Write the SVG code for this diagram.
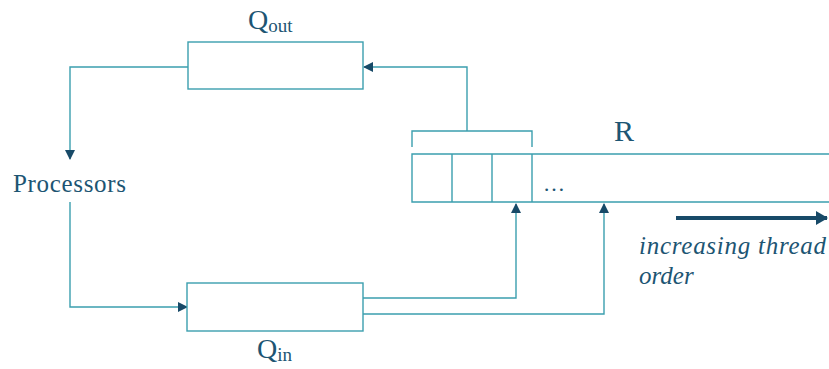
<svg xmlns="http://www.w3.org/2000/svg" width="829" height="369" viewBox="0 0 829 369">
<style>
.ln{fill:none;stroke:#3b9fae;stroke-width:1.4}
.bx{fill:#fff;stroke:#3b9fae;stroke-width:1.4}
.t{fill:#1d5573;font-family:"Liberation Serif","DejaVu Serif",serif}
</style>
<defs>
<marker id="ah" markerWidth="10" markerHeight="10" refX="9" refY="5" orient="auto" markerUnits="userSpaceOnUse">
<path d="M0,0 L10,5 L0,10 Z" fill="#184a68"/>
</marker>
<marker id="ahb" markerWidth="12" markerHeight="14" refX="11" refY="7" orient="auto" markerUnits="userSpaceOnUse">
<path d="M0,0 L12,7 L0,14 Z" fill="#184a68"/>
</marker>
</defs>
<rect width="829" height="369" fill="#fff"/>
<g id="connectors">
<path class="ln" d="M467,131 V67 H364" marker-end="url(#ah)"/>
<path class="ln" d="M188,67 H70 V159" marker-end="url(#ah)"/>
<path class="ln" d="M70,202 V307 H187" marker-end="url(#ah)"/>
<path class="ln" d="M363,298 H516 V204" marker-end="url(#ah)"/>
<path class="ln" d="M363,314 H604 V204" marker-end="url(#ah)"/>
<path d="M676,218 H827" fill="none" stroke="#184a68" stroke-width="4" marker-end="url(#ahb)"/>
</g>
<g id="qout">
<rect class="bx" x="188" y="42" width="175" height="47"/>
<text class="t" x="248" y="29" font-size="28">Q<tspan font-size="19" dy="3">out</tspan></text>
</g>
<g id="processors">
<text class="t" x="13" y="192" font-size="25" textLength="113">Processors</text>
</g>
<g id="qin">
<rect class="bx" x="187" y="283" width="176" height="48"/>
<text class="t" x="257" y="358" font-size="28">Q<tspan font-size="19" dy="3">in</tspan></text>
</g>
<g id="r">
<path class="ln" d="M829,154 H412 V202 H829"/>
<path class="ln" d="M452,154 V202 M492,154 V202 M532,154 V202"/>
<path class="ln" d="M412,147 V131 H532 V147"/>
<text class="t" x="614" y="141" font-size="30">R</text>
<text class="t" x="543" y="191" font-size="22">…</text>
</g>
<g id="order">
<text class="t" x="639" y="254" font-size="25" font-style="italic" textLength="187">increasing thread</text>
<text class="t" x="639" y="284" font-size="25" font-style="italic">order</text>
</g>
</svg>
